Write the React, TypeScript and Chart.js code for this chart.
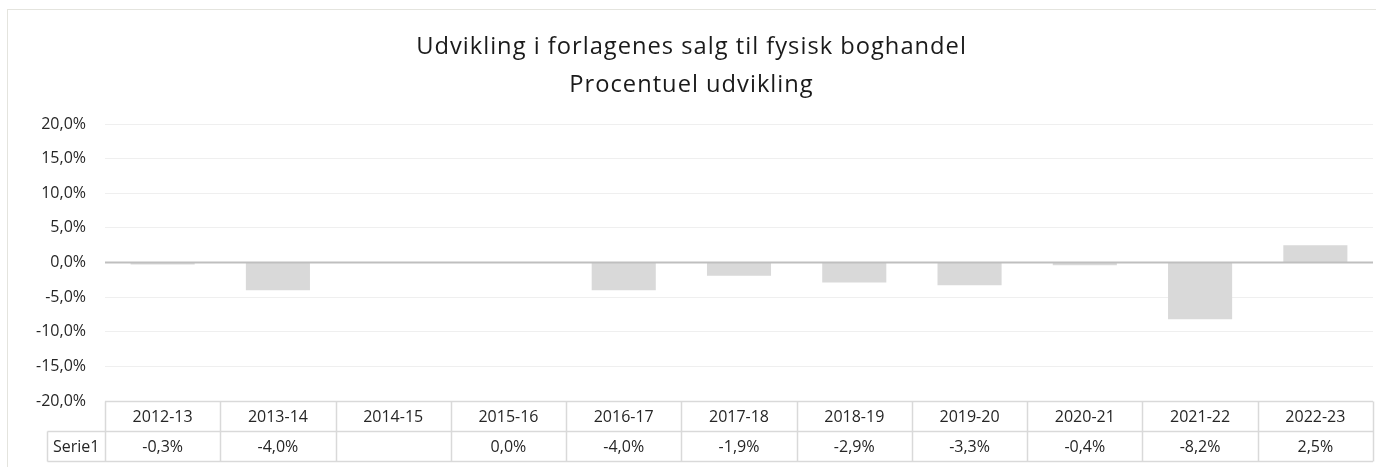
import React, { useEffect, useRef } from "react";
import { Chart, registerables } from "chart.js";

Chart.register(...registerables);

const titleLines = ["Udvikling i forlagenes salg til fysisk boghandel", "Procentuel udvikling"];
const categories = ["2012-13", "2013-14", "2014-15", "2015-16", "2016-17", "2017-18", "2018-19", "2019-20", "2020-21", "2021-22", "2022-23"];
const seriesName = "Serie1";
const values: (number | null)[] = [-0.3, -4.0, null, 0.0, -4.0, -1.9, -2.9, -3.3, -0.4, -8.2, 2.5];
const yMin = -20;
const yMax = 20;
const yStep = 5;

const FONT = '"Open Sans", "Liberation Sans", sans-serif';
const TEXT = "#262626";
const LINE = "#d9d9d9";

const fmt = (v: number | null) => (v === null ? "" : v.toFixed(1).replace(".", ",") + "%");

const decorPlugin = {
  id: "decor",
  beforeDraw(chart: any) {
    const { ctx, width, height } = chart;
    ctx.save();
    ctx.fillStyle = "#ffffff";
    ctx.fillRect(0, 0, width, height);
    ctx.strokeStyle = "#e4e4de";
    ctx.lineWidth = 1;
    ctx.strokeRect(7.5, 9.5, width, height);
    // title
    ctx.fillStyle = "#1a1a1a";
    ctx.font = `23.7px ${FONT}`;
    try { (ctx as any).letterSpacing = "1px"; } catch (e) {}
    ctx.textAlign = "center";
    ctx.textBaseline = "middle";
    const cx = (7 + width) / 2;
    ctx.fillText(titleLines[0], cx, 47);
    ctx.fillText(titleLines[1], cx, 85);
    try { (ctx as any).letterSpacing = "0px"; } catch (e) {}
    ctx.restore();
  },
  afterDatasetsDraw(chart: any) {
    const { ctx, chartArea } = chart;
    const y = chart.scales.y.getPixelForValue(0);
    ctx.save();
    ctx.strokeStyle = "#bfbfbf";
    ctx.lineWidth = 2;
    ctx.beginPath();
    ctx.moveTo(chartArea.left, y);
    ctx.lineTo(chartArea.right, y);
    ctx.stroke();
    ctx.restore();
  },
  afterDraw(chart: any) {
    const { ctx, chartArea } = chart;
    const xs = chart.scales.x;
    const n = categories.length;
    const y0 = Math.round(chartArea.bottom) + 0.5;
    const y1 = y0 + 30;
    const y2 = y1 + 30;
    const labelLeft = 47.5;
    const edges: number[] = [chartArea.left];
    for (let i = 0; i < n - 1; i++) {
      edges.push((xs.getPixelForValue(i) + xs.getPixelForValue(i + 1)) / 2);
    }
    edges.push(chartArea.right);
    ctx.save();
    ctx.strokeStyle = LINE;
    ctx.lineWidth = 1.5;
    ctx.beginPath();
    ctx.moveTo(chartArea.left, y0);
    ctx.lineTo(chartArea.right, y0);
    ctx.moveTo(labelLeft, y1);
    ctx.lineTo(chartArea.right, y1);
    ctx.moveTo(labelLeft, y2);
    ctx.lineTo(chartArea.right, y2);
    ctx.moveTo(labelLeft, y1);
    ctx.lineTo(labelLeft, y2);
    edges.forEach((e) => {
      const x = Math.round(e) + 0.5;
      ctx.moveTo(x, y0);
      ctx.lineTo(x, y2);
    });
    ctx.stroke();
    ctx.fillStyle = TEXT;
    ctx.font = `16px ${FONT}`;
    ctx.textAlign = "center";
    ctx.textBaseline = "middle";
    categories.forEach((c, i) => {
      const x = xs.getPixelForValue(i);
      ctx.fillText(c, x, (y0 + y1) / 2 + 1);
      ctx.fillText(fmt(values[i]), x, (y1 + y2) / 2 + 1);
    });
    ctx.fillText(seriesName, (labelLeft + chartArea.left) / 2, (y1 + y2) / 2 + 1);
    ctx.restore();
  },
};

export default function App() {
  const ref = useRef<HTMLCanvasElement | null>(null);
  useEffect(() => {
    if (!ref.current) return;
    const chart = new Chart(ref.current, {
      type: "bar",
      data: {
        labels: categories,
        datasets: [
          {
            label: seriesName,
            data: values as any,
            backgroundColor: "#d9d9d9",
            borderWidth: 0,
            categoryPercentage: 1,
            barPercentage: 0.556,
          },
        ],
      },
      options: {
        responsive: false,
        animation: false,
        devicePixelRatio: 1,
        layout: { padding: { top: 124, bottom: 66, left: 0, right: 3 } },
        plugins: { legend: { display: false }, title: { display: false }, tooltip: { enabled: false } },
        scales: {
          x: { display: false, offset: true },
          y: {
            min: yMin,
            max: yMax,
            border: { display: false },
            afterFit: (s: any) => {
              s.width = 105;
            },
            grid: {
              drawTicks: false,
              color: (c: any) => (c.tick && c.tick.value === 0 ? "rgba(0,0,0,0)" : "#efefef"),
              lineWidth: 1,
            },
            ticks: {
              stepSize: yStep,
              padding: 19,
              color: TEXT,
              font: { family: FONT, size: 16 },
              callback: (v: any) => fmt(Number(v)),
            },
          },
        },
      },
      plugins: [decorPlugin],
    });
    return () => chart.destroy();
  }, []);
  return (
    <div style={{ position: "absolute", left: 0, top: 0, width: 1376, height: 467 }}>
      <canvas ref={ref} width={1376} height={467} style={{ width: 1376, height: 467, display: "block" }} />
    </div>
  );
}
